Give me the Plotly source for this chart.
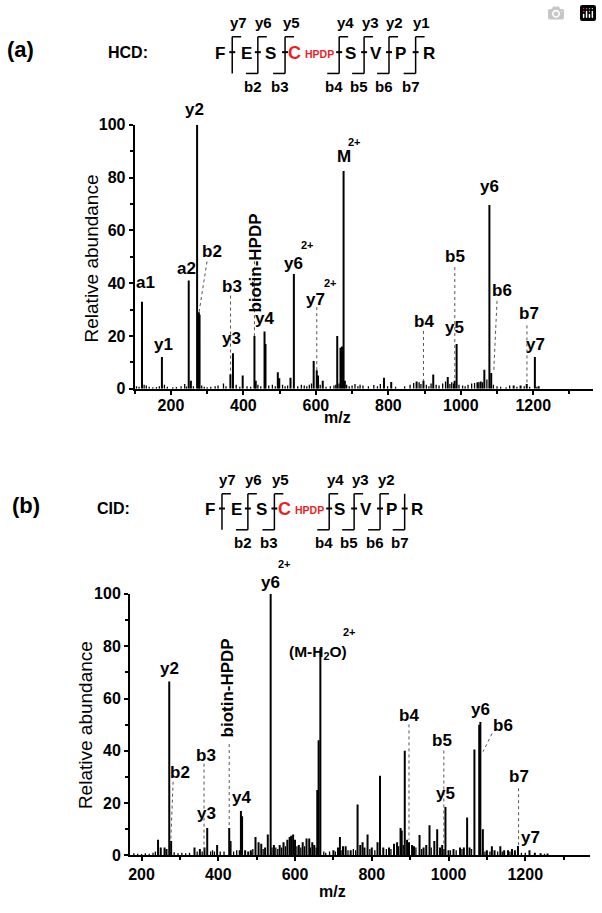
import plotly.graph_objects as go

W, H = 602, 913
FONT = "Liberation Sans, Arial, sans-serif"
RED = "#ee1c25"

# ---------------- data: panel (a) HCD ----------------
hcd_mz = [120.1, 175.1, 249.1, 255.0, 272.2, 277.1, 279.0, 364.1, 371.2, 398.0, 430.5, 434.0,
          458.3, 461.0, 495.0, 499.0, 530.0, 539.3, 594.0, 602.5, 606.0, 619.0, 659.0, 668.0,
          672.0, 676.5, 680.0, 788.0, 808.0, 878.0, 897.0, 924.0, 964.0, 983.0, 988.5, 1046.0,
          1055.0, 1065.0, 1079.0, 1084.0, 1146.0, 1165.0, 1182.0, 1204.5, 1215.0]
hcd_int = [33.0, 12.0, 41.0, 3.0, 100.0, 29.0, 28.0, 5.5, 13.5, 5.0, 20.0, 3.0,
           21.7, 17.0, 6.3, 4.0, 4.2, 43.5, 10.5, 7.0, 5.0, 3.0, 20.0, 15.5,
           16.0, 82.5, 3.0, 4.2, 2.6, 2.8, 3.0, 5.4, 4.5, 3.0, 17.0, 2.5,
           2.8, 7.2, 69.6, 6.0, 1.2, 1.2, 1.8, 12.0, 1.0]
hcd_noise_mz = [105, 112, 126, 132, 140, 150, 160, 168, 182, 190, 205, 215, 228, 238, 243, 262,
                285, 292, 300, 310, 322, 330, 345, 352, 380, 390, 410, 420, 440, 448, 470, 480,
                488, 508, 515, 522, 550, 560, 568, 575, 582, 588, 612, 628, 640, 650, 655, 664,
                685, 692, 700, 708, 716, 722, 730, 745, 760, 770, 778, 798, 820, 845, 860, 870,
                885, 890, 905, 912, 918, 932, 940, 950, 958, 970, 975, 980, 995, 1005, 1012, 1020,
                1030, 1038, 1050, 1060, 1072, 1090, 1100, 1110, 1125, 1135, 1155, 1175, 1190, 1210]
hcd_noise_int = [1.0, 0.8, 1.5, 1.2, 0.8, 0.6, 0.7, 1.0, 1.5, 0.8, 0.6, 0.7, 1.0, 1.8, 0.9, 1.0,
                 1.2, 0.8, 0.6, 0.8, 1.0, 1.2, 2.0, 1.0, 1.5, 0.8, 1.0, 0.8, 1.5, 1.0, 1.2, 1.5,
                 1.0, 1.5, 1.0, 1.2, 1.0, 1.5, 1.2, 1.0, 1.5, 2.0, 1.5, 0.8, 1.0, 1.2, 1.5, 2.0,
                 1.5, 1.0, 1.2, 1.8, 1.0, 1.5, 1.2, 1.0, 1.4, 1.0, 1.8, 1.0, 0.8, 1.0, 1.5, 2.2,
                 2.5, 1.8, 1.5, 1.0, 2.0, 1.5, 1.2, 2.0, 2.8, 1.8, 2.5, 2.0, 1.5, 1.2, 1.0, 1.5,
                 2.0, 2.2, 2.5, 2.5, 3.5, 1.5, 1.0, 0.8, 0.6, 1.2, 0.8, 1.0, 0.8, 0.8]

# peak labels (text, m/z, height in % units) for panel (a)
hcd_lab_text = ["a1", "y1", "a2", "y2", "b2", "b3", "y3", "y4", "y6", "y7", "M",
                "b4", "b5", "y5", "y6", "b6", "b7", "y7"]
hcd_lab_mz = [130, 178.5, 242.6, 265.5, 313.3, 368.4, 366.4, 458, 539, 600.3, 676.5,
              898.2, 982.7, 982.7, 1079, 1113.9, 1187, 1205.5]
hcd_lab_y = [40.1, 16.7, 45.7, 105.8, 51.9, 38.7, 19.1, 26.8, 47.6, 33.9, 87.8,
             25.5, 50.1, 23.4, 76.7, 37.1, 28.4, 16.6]
hcd_sup_mz = [577.4, 639.6, 707.0]
hcd_sup_y = [54.3, 40.1, 93.6]
hcd_rot_mz, hcd_rot_y = 432.5, 67.0
# dotted leader lines: (mz0, y0) -> (mz1, y1)
hcd_lead_mz0 = [299.6, 364.5, 430.5, 602.5, 897.0, 983.5, 1100.0, 1182.6]
hcd_lead_y0 = [48.2, 35.3, 48.3, 30.9, 21.9, 46.1, 33.3, 24.0]
hcd_lead_mz1 = [277.6, 364.5, 430.5, 602.5, 897.0, 983.5, 1090.8, 1182.6]
hcd_lead_y1 = [29.0, 5.5, 20.0, 7.0, 3.0, 3.0, 6.1, 2.0]

# ---------------- data: panel (b) CID ----------------
cid_mz = [243, 250, 260, 265, 272.2, 277.1, 338, 352, 364.1, 371.2, 397, 428.5, 432,
          459, 462, 470, 478, 485, 497, 505, 512, 522, 529, 536.5, 545, 560, 570, 580, 586,
          590, 595, 600, 610, 620, 630, 637, 645, 650, 658, 661.5, 666, 700, 712, 717, 725,
          732, 745, 763, 770, 776, 781, 789, 800, 815, 821.5, 830, 845, 858, 866, 875, 878,
          886, 892, 897, 905, 910, 924.5, 935, 942, 950.5, 963, 970.5, 978, 983.5, 992,
          1000, 1013, 1030, 1040, 1048.5, 1055, 1067.5, 1080, 1083, 1089.5, 1100, 1113,
          1120, 1135, 1145, 1155, 1165.5, 1173, 1181, 1211, 1225, 1240, 1258]
cid_int = [6.0, 3.0, 3.0, 2.5, 66.5, 5.5, 3.0, 2.5, 3.0, 10.5, 4.0, 10.5, 5.5,
           17.0, 15.0, 2.0, 1.5, 2.0, 7.0, 5.0, 4.5, 3.0, 8.0, 100.0, 4.0, 4.0, 5.0, 6.0, 7.0,
           7.5, 8.0, 6.0, 4.0, 5.0, 6.5, 6.5, 5.0, 4.0, 25.0, 44.0, 79.0, 2.0, 3.0, 7.0, 3.5,
           3.5, 2.0, 19.5, 4.0, 5.0, 3.0, 8.0, 3.0, 5.0, 30.5, 3.0, 3.0, 4.5, 5.0, 10.5, 9.5,
           40.0, 6.0, 5.0, 4.0, 3.5, 7.8, 3.0, 4.0, 11.5, 5.5, 10.0, 3.0, 4.0, 18.5,
           2.0, 2.5, 3.0, 3.0, 14.5, 3.0, 40.5, 50.0, 51.0, 10.0, 2.0, 3.5,
           2.0, 3.5, 2.0, 2.0, 2.5, 2.0, 3.6, 2.0, 1.0, 0.8, 0.7]
cid_noise_mz = [180, 190, 200, 210, 220, 230, 236, 285, 295, 305, 315, 325, 345, 358, 380, 385,
                390, 405, 415, 440, 448, 455, 490, 517, 540, 550, 555, 565, 575, 605, 615, 625,
                640, 655, 675, 680, 690, 705, 720, 738, 752, 758, 795, 808, 838, 850, 870, 882,
                915, 930, 955, 988, 1005, 1020, 1035, 1060, 1095, 1108, 1128, 1140, 1160, 1190,
                1200, 1250]
cid_noise_int = [0.8, 0.6, 0.5, 0.8, 0.6, 1.0, 1.5, 1.2, 0.8, 1.0, 0.8, 1.0, 1.5, 1.5, 1.5, 2.0,
                 1.5, 1.5, 1.5, 1.5, 2.0, 2.0, 2.5, 2.5, 3.0, 3.0, 2.5, 3.0, 3.5, 3.5, 3.0, 3.5,
                 3.0, 3.0, 1.5, 1.0, 1.5, 1.5, 2.0, 2.0, 2.5, 2.0, 2.5, 2.0, 2.5, 2.5, 3.5, 4.0,
                 3.0, 2.5, 3.0, 2.5, 2.0, 2.0, 2.5, 2.5, 1.5, 1.5, 1.5, 1.5, 1.5, 1.0,
                 1.0, 0.6]

cid_lab_text = ["y2", "b2", "b3", "y3", "y4", "y6", "b4", "b5", "y5", "y6", "b6", "b7", "y7"]
cid_lab_mz = [272, 299.5, 368.8, 368.8, 459.7, 535.8, 896.9, 983.6, 992.2, 1083, 1142, 1182.6, 1213]
cid_lab_y = [71.6, 31.7, 38.2, 16.1, 22.0, 104.5, 53.5, 43.8, 23.8, 55.7, 49.7, 30.1, 6.9]
cid_sup_mz = [573.5, 743.0]
cid_sup_y = [111.3, 85.6]
cid_rot_mz, cid_rot_y = 425.2, 64.2
cid_mh2o_mz, cid_mh2o_y = 659.0, 82.0
cid_lead_mz0 = [282.3, 362.9, 428.5, 897.0, 987.8, 1113.5, 1182.6]
cid_lead_y0 = [28.2, 35.1, 42.6, 50.1, 40.1, 46.6, 25.7]
cid_lead_mz1 = [276.1, 362.9, 428.5, 897.0, 987.8, 1090.1, 1182.6]
cid_lead_y1 = [5.3, 2.0, 10.5, 6.0, 4.0, 39.7, 3.8]

# header sequence
seq_letters = ["F", "E", "S", "S", "V", "P", "R"]
y_ions_a = ["y7", "y6", "y5", "y4", "y3", "y2", "y1"]
y_ions_b = ["y7", "y6", "y5", "y4", "y3", "y2"]
b_ions = ["b2", "b3", "b4", "b5", "b6", "b7"]


def sticks(mz, h):
    xs, ys = [], []
    for m, v in zip(mz, h):
        xs += [m, m, None]
        ys += [0, v, None]
    return xs, ys


fig = go.Figure()
for mzs, ints, xa, ya, w in [
    (hcd_noise_mz, hcd_noise_int, "x", "y", 1.3),
    (hcd_mz, hcd_int, "x", "y", 2.0),
    (cid_noise_mz, cid_noise_int, "x2", "y2", 1.3),
    (cid_mz, cid_int, "x2", "y2", 2.0),
]:
    xs, ys = sticks(mzs, ints)
    fig.add_trace(go.Scatter(x=xs, y=ys, mode="lines", xaxis=xa, yaxis=ya,
                             line=dict(color="black", width=w), hoverinfo="skip",
                             showlegend=False))

def px(x):
    return x / W

def py(y):
    return 1 - y / H

tickfont = dict(family=FONT, size=16, color="black", weight="bold")
axis_common = dict(showgrid=False, zeroline=False, showline=True, linecolor="black",
                   linewidth=2, ticks="outside", ticklen=4, tickwidth=1.5, tickcolor="black",
                   tickfont=tickfont, fixedrange=True)
minor_x = dict(dtick=100, tick0=0, ticks="outside", ticklen=3, tickcolor="black")
minor_y = dict(dtick=10, tick0=0, ticks="outside", ticklen=3, tickcolor="black")

fig.update_layout(
    width=W, height=H, autosize=False,
    margin=dict(l=0, r=0, t=0, b=0),
    plot_bgcolor="white", paper_bgcolor="white",
    xaxis=dict(domain=[px(133.15), px(593.0)], range=[100, 1365], anchor="y",
               tick0=0, dtick=200, minor=minor_x, ticklabelstandoff=-3, **axis_common),
    yaxis=dict(domain=[py(388), py(119)], range=[0, 100], anchor="x",
               tick0=0, dtick=20, minor=minor_y, **axis_common),
    xaxis2=dict(domain=[px(128.45), px(590.45)], range=[170, 1370], anchor="y2",
                tick0=0, dtick=200, minor=minor_x, ticklabelstandoff=-1, **axis_common),
    yaxis2=dict(domain=[py(863.5), py(597)], range=[0, 100], anchor="x2",
                tick0=0, dtick=20, minor=minor_y, **axis_common),
)

ann = []
shapes = []
labfont = dict(family=FONT, size=17, color="black", weight="bold")
supfont = dict(family=FONT, size=11, color="black", weight="bold")

# labels: x in data units, y given in % (converted to the axis domain so labels above 100 stay visible)
def peak_labels(texts, mzs, ys, xr, yr):
    for t, m, v in zip(texts, mzs, ys):
        ann.append(dict(text=t, x=m, y=v / 100.0, xref=xr, yref=yr + " domain", showarrow=False,
                        xanchor="center", yanchor="middle", font=labfont))

def sup_labels(mzs, ys, xr, yr):
    for m, v in zip(mzs, ys):
        ann.append(dict(text="2+", x=m, y=v / 100.0, xref=xr, yref=yr + " domain", showarrow=False,
                        xanchor="center", yanchor="middle", font=supfont))

def leaders(x0s, y0s, x1s, y1s, xr, yr):
    for a, b, c, d in zip(x0s, y0s, x1s, y1s):
        shapes.append(dict(type="line", xref=xr, yref=yr, x0=a, y0=b, x1=c, y1=d,
                           line=dict(color="#555555", width=1, dash="dot")))

peak_labels(hcd_lab_text, hcd_lab_mz, hcd_lab_y, "x", "y")
sup_labels(hcd_sup_mz, hcd_sup_y, "x", "y")
leaders(hcd_lead_mz0, hcd_lead_y0, hcd_lead_mz1, hcd_lead_y1, "x", "y")
ann.append(dict(text="biotin-HPDP", x=hcd_rot_mz, y=hcd_rot_y / 100.0, xref="x", yref="y domain",
                showarrow=False, textangle=-90, font=labfont))

peak_labels(cid_lab_text, cid_lab_mz, cid_lab_y, "x2", "y2")
sup_labels(cid_sup_mz, cid_sup_y, "x2", "y2")
leaders(cid_lead_mz0, cid_lead_y0, cid_lead_mz1, cid_lead_y1, "x2", "y2")
ann.append(dict(text="biotin-HPDP", x=cid_rot_mz, y=cid_rot_y / 100.0, xref="x2", yref="y2 domain",
                showarrow=False, textangle=-90, font=labfont))
ann.append(dict(text="(M-H<sub>2</sub>O)", x=cid_mh2o_mz, y=cid_mh2o_y / 100.0, xref="x2",
                yref="y2 domain", showarrow=False,
                font=dict(family=FONT, size=15.5, color="black", weight="bold")))

# axis titles
for x0, y0 in [(89.5, 255), (84, 731)]:
    ann.append(dict(text="Relative abundance", x=px(x0), y=py(y0), xref="paper", yref="paper",
                    showarrow=False, textangle=-90, xanchor="center", yanchor="middle",
                    font=dict(family=FONT, size=19, color="black")))
for x0, y0 in [(337, 417), (332, 900)]:
    ann.append(dict(text="m/z", x=px(x0), y=py(y0), xref="paper", yref="paper",
                    showarrow=False, xanchor="center", yanchor="middle",
                    font=dict(family=FONT, size=16, color="black", weight="bold")))

def ptext(t, x0, y0, size, color="black", anchor="center"):
    ann.append(dict(text=t, x=px(x0), y=py(y0), xref="paper", yref="paper", showarrow=False,
                    xanchor=anchor, yanchor="middle",
                    font=dict(family=FONT, size=size, color=color, weight="bold")))

def pline(x0, y0, x1, y1, w=1.5):
    shapes.append(dict(type="line", xref="paper", yref="paper", x0=px(x0), y0=py(y0),
                       x1=px(x1), y1=py(y1), line=dict(color="black", width=w)))

def header(tag, tagx, mode, modex, ycen, seq_x, c_right, verts, ytop, ybot,
           yions, ylab_y, blab_y, first_b, last_y):
    ptext(tag, tagx, ycen - 3, 22)
    ptext(mode, modex, ycen, 16)
    for t, x0 in zip(seq_letters, seq_x):
        ptext(t, x0, ycen + 1, 17)
    ptext("C", c_right, ycen + 1, 18, RED, "right")
    ptext("HPDP", c_right, ycen + 2, 10.5, RED, "left")
    for i, v in enumerate(verts):
        pline(v, ytop, v, ybot)
        pline(v - 3, ycen, v + 3, ycen, 2)
        if i < last_y:
            pline(v, ytop, v + 9, ytop)
            ptext(yions[i], v + 6, ylab_y, 15)
        if i >= first_b:
            pline(v - 12, ybot, v, ybot)
            ptext(b_ions[i - first_b], v - 5, blab_y, 15)

header("(a)", 19, "HCD:", 126.5, 45,
       [218.3, 245, 269.3, 349.3, 375, 400, 428.3], 302,
       [231, 256.7, 284, 338.3, 363.3, 388.3, 415], 29.3, 66.7,
       y_ions_a, 15, 80, 1, 7)
header("(b)", 24, "CID:", 112, 510,
       [208.3, 235, 260, 338.3, 365, 390.7, 416.7], 292,
       [220.7, 246.7, 273.3, 328.3, 353.3, 379.3, 404], 495, 531.7,
       y_ions_b, 480.5, 545, 1, 6)

fig.update_layout(annotations=ann, shapes=shapes)
fig.write_html("out.html", post_script="document.body.style.margin='0';")
